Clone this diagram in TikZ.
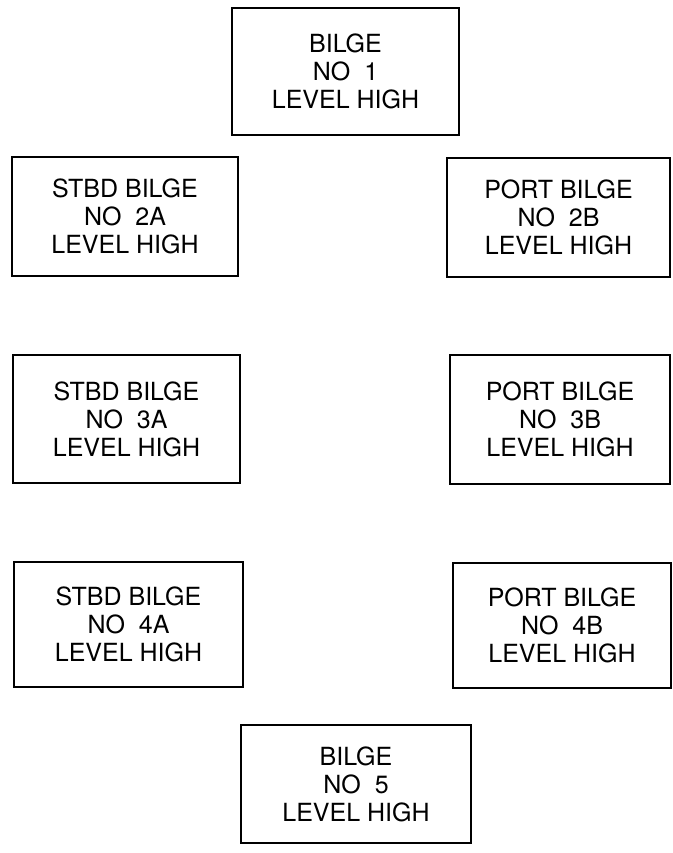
\documentclass[tikz,border=0pt]{standalone}
\usepackage{fontspec}
\setmainfont{TeX Gyre Heros}
\usepackage{tikz}
\usetikzlibrary{positioning}

\begin{document}
\begin{tikzpicture}[x=1pt,y=-1pt,
  alarmbox/.style={draw,line width=1.6pt,inner sep=0pt,align=center,
    font=\fontsize{25}{28}\selectfont}]
  \useasboundingbox (0,0) rectangle (672,853); % 図の外枠
  \node[alarmbox,minimum width=227,minimum height=127] (b1) at (345.5,71.5)
    {BILGE\\NO~~1\\LEVEL HIGH}; % 上の警報
  \node[alarmbox,minimum width=226,minimum height=119] (b2a) at (125,216.5)
    {STBD BILGE\\NO~~2A\\LEVEL HIGH}; % 右舷 2A
  \node[alarmbox,minimum width=223,minimum height=119] (b2b) at (558.5,217.5)
    {PORT BILGE\\NO~~2B\\LEVEL HIGH}; % 左舷 2B
  \node[alarmbox,minimum width=227,minimum height=128] (b3a) at (126.5,419)
    {STBD BILGE\\NO~~3A\\LEVEL HIGH}; % 右舷 3A
  \node[alarmbox,minimum width=220,minimum height=129] (b3b) at (560,419.5)
    {PORT BILGE\\NO~~3B\\LEVEL HIGH}; % 左舷 3B
  \node[alarmbox,minimum width=229,minimum height=125] (b4a) at (128.5,624.5)
    {STBD BILGE\\NO~~4A\\LEVEL HIGH}; % 右舷 4A
  \node[alarmbox,minimum width=218,minimum height=125] (b4b) at (562,625.5)
    {PORT BILGE\\NO~~4B\\LEVEL HIGH}; % 左舷 4B
  \node[alarmbox,minimum width=230,minimum height=118] (b5) at (356,784)
    {BILGE\\NO~~5\\LEVEL HIGH}; % 下の警報
\end{tikzpicture}
\end{document}
